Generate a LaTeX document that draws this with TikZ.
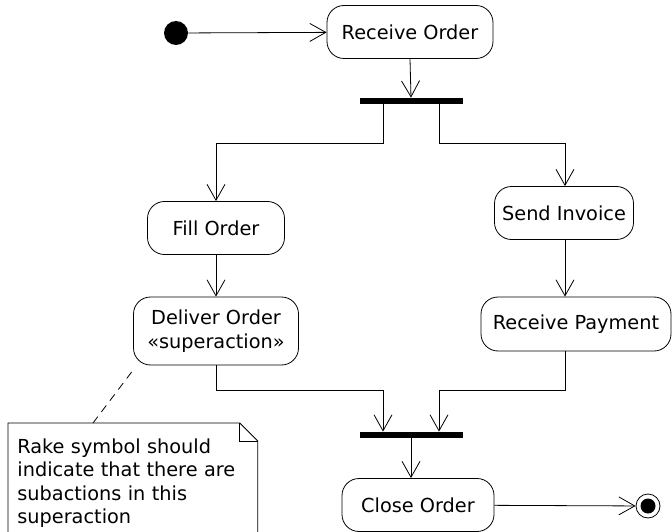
\documentclass[tikz,border=0pt]{standalone}
\usepackage{fontspec}
\setmainfont{DejaVu Sans}
\usetikzlibrary{arrows.meta}

\begin{document}
\begin{tikzpicture}[x=1pt,y=-1pt,line width=0.8pt,
  >={Straight Barb[length=16pt,width=18pt]},
  every node/.style={font=\fontsize{19.3}{23.5}\selectfont},
  action/.style={draw,rounded corners=17pt,minimum height=53pt,align=center,inner sep=0pt},
  bar/.style={fill,minimum width=103pt,minimum height=6pt,inner sep=0pt},
  dashedline/.style={dash pattern=on 8pt off 6pt}]
\useasboundingbox (0,0) rectangle (672,532);

\node[circle,fill,minimum size=24pt,inner sep=0pt] (start) at (176,33) {};
\node[action,minimum width=166pt] (recv) at (410,32) {Receive Order};
\node[bar] (fork) at (411,101) {};

\node[action,minimum width=137pt] (fill) at (216,228) {Fill Order};
\node[action,minimum width=165pt,minimum height=68pt] (deliver) at (216,331) {Deliver Order\\«superaction»};

\node[action,minimum width=139pt] (send) at (564,213) {Send Invoice};
\node[action,minimum width=190pt,minimum height=54pt] (pay) at (576,324) {Receive Payment};

\node[bar] (join) at (411,435) {};
\node[action,minimum width=152pt] (close) at (418,505) {Close Order};

\node[circle,draw,fill=white,minimum size=24pt,inner sep=0pt] (final) at (648,506) {};
\node[circle,fill,minimum size=15pt,inner sep=0pt] (finaldot) at (final) {};

\node[anchor=north west,text width=231pt,align=left,inner xsep=9pt,inner ysep=10pt,minimum height=120pt] (note) at (8,423)
  {Rake symbol should\\indicate that there are\\subactions in this\\superaction};
\draw (note.north west) -- ([xshift=-18pt]note.north east) -- ([yshift=-18pt]note.north east)
  -- (note.south east) -- (note.south west) -- cycle;
\draw ([xshift=-18pt]note.north east) -- ([xshift=-18pt,yshift=-18pt]note.north east) -- ([yshift=-18pt]note.north east);

\draw[->] (start) -- (recv);
\draw[->] (recv.south) -- (fork.north);

\draw[->] ([xshift=-28pt]fork.south) -- ++(0,39) -| (fill.north);
\draw[->] ([xshift=28pt]fork.south) -- ++(0,39) -| ([xshift=1pt]send.north);

\draw[->] (fill) -- (deliver);
\draw[->] ([xshift=1pt]send.south) -- ([xshift=1pt]send.south |- pay.north);

\draw[->] (deliver.south) -- ++(0,25) -| ([xshift=-28pt]join.north);
\draw[->] ([xshift=1pt]send.south |- pay.south) -- ++(0,39) -| ([xshift=28pt]join.north);

\draw[->] (join.south) -- (join.south |- close.north);
\draw[->] (close) -- (final);

\draw[dashedline] ([xshift=85pt]note.north west) -- ([xshift=2pt,yshift=-2pt]deliver.south west);

\end{tikzpicture}
\end{document}
